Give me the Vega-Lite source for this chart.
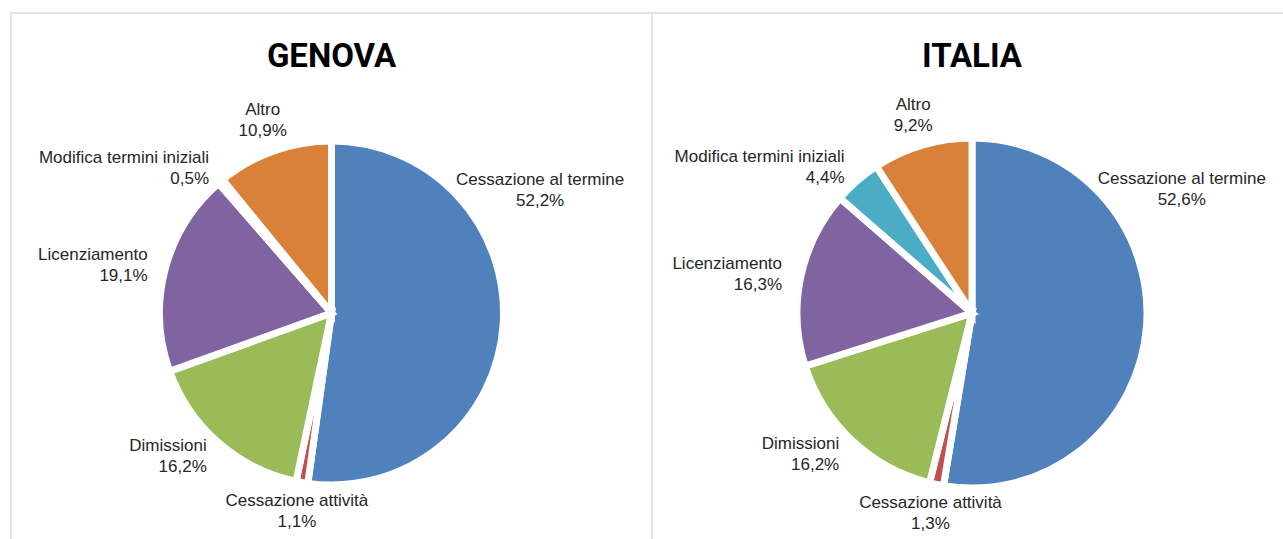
{
  "$schema": "https://vega.github.io/schema/vega-lite/v6.json",
  "background": "white",
  "padding": {"left": 10, "top": 12, "right": 0, "bottom": 0},
  "spacing": 0,
  "bounds": "flush",
  "datasets": {
    "d": [
      {"region": "GENOVA", "cat": "Cessazione al termine", "pct": 0.522, "ord": 1},
      {"region": "GENOVA", "cat": "Cessazione attività", "pct": 0.011, "ord": 2},
      {"region": "GENOVA", "cat": "Dimissioni", "pct": 0.162, "ord": 3},
      {"region": "GENOVA", "cat": "Licenziamento", "pct": 0.191, "ord": 4},
      {"region": "GENOVA", "cat": "Modifica termini iniziali", "pct": 0.005, "ord": 5},
      {"region": "GENOVA", "cat": "Altro", "pct": 0.109, "ord": 6},
      {"region": "ITALIA", "cat": "Cessazione al termine", "pct": 0.526, "ord": 1},
      {"region": "ITALIA", "cat": "Cessazione attività", "pct": 0.013, "ord": 2},
      {"region": "ITALIA", "cat": "Dimissioni", "pct": 0.162, "ord": 3},
      {"region": "ITALIA", "cat": "Licenziamento", "pct": 0.163, "ord": 4},
      {"region": "ITALIA", "cat": "Modifica termini iniziali", "pct": 0.044, "ord": 5},
      {"region": "ITALIA", "cat": "Altro", "pct": 0.092, "ord": 6}
    ]
  },
  "hconcat": [
    {
      "title": {"text": "GENOVA"},
      "width": 641,
      "height": 600,
      "view": {"stroke": "#e2e2e2", "strokeWidth": 2},
      "data": {"name": "d"},
      "transform": [
        {"filter": "datum.region === 'GENOVA'"},
        {"window": [{"op": "sum", "field": "pct", "as": "cum"}], "sort": [{"field": "ord", "order": "ascending"}], "frame": [null, 0]},
        {"calculate": "datum.cum - datum.pct + min(datum.pct / 2, 0.165)", "as": "lab"}
      ],
      "layer": [
        {
          "mark": {"type": "arc", "outerRadius": 172, "stroke": "white", "strokeWidth": 7},
          "encoding": {
            "theta": {"field": "pct", "type": "quantitative", "stack": true, "scale": {"domain": [0, 1]}},
            "order": {"field": "ord", "type": "quantitative"},
            "color": {"field": "cat", "type": "nominal", "legend": null,
              "scale": {"domain": ["Cessazione al termine", "Cessazione attività", "Dimissioni", "Licenziamento", "Modifica termini iniziali", "Altro"],
                        "range": ["#4F81BD", "#C0504D", "#9BBB59", "#8064A2", "#4BACC6", "#DA8139"]}}
          }
        },
        {
          "mark": {"type": "text", "font": "Liberation Sans", "fontSize": 17, "fill": "#262626", "dy": -10,
            "radius": {"expr": "sin(2*PI*datum.lab) < -0.5 ? 190 : 1/sqrt(pow(sin(2*PI*datum.lab)/265,2) + pow(cos(2*PI*datum.lab)/200,2))"},
            "align": {"expr": "sin(2*PI*datum.lab) < -0.5 ? 'right' : 'center'"}},
          "encoding": {
            "theta": {"field": "lab", "type": "quantitative", "stack": null, "scale": {"domain": [0, 1]}},
            "text": {"field": "cat"}
          }
        },
        {
          "mark": {"type": "text", "font": "Liberation Sans", "fontSize": 17, "fill": "#262626", "dy": 11,
            "radius": {"expr": "sin(2*PI*datum.lab) < -0.5 ? 190 : 1/sqrt(pow(sin(2*PI*datum.lab)/265,2) + pow(cos(2*PI*datum.lab)/200,2))"},
            "align": {"expr": "sin(2*PI*datum.lab) < -0.5 ? 'right' : 'center'"}},
          "encoding": {
            "theta": {"field": "lab", "type": "quantitative", "stack": null, "scale": {"domain": [0, 1]}},
            "text": {"field": "pct", "type": "quantitative", "format": ".1%"}
          }
        }
      ]
    },
    {
      "title": {"text": "ITALIA"},
      "width": 640,
      "height": 600,
      "view": {"stroke": "#e2e2e2", "strokeWidth": 2},
      "data": {"name": "d"},
      "transform": [
        {"filter": "datum.region === 'ITALIA'"},
        {"window": [{"op": "sum", "field": "pct", "as": "cum"}], "sort": [{"field": "ord", "order": "ascending"}], "frame": [null, 0]},
        {"calculate": "datum.cum - datum.pct + min(datum.pct / 2, 0.165)", "as": "lab"}
      ],
      "layer": [
        {
          "mark": {"type": "arc", "outerRadius": 175, "stroke": "white", "strokeWidth": 7},
          "encoding": {
            "theta": {"field": "pct", "type": "quantitative", "stack": true, "scale": {"domain": [0, 1]}},
            "order": {"field": "ord", "type": "quantitative"},
            "color": {"field": "cat", "type": "nominal", "legend": null,
              "scale": {"domain": ["Cessazione al termine", "Cessazione attività", "Dimissioni", "Licenziamento", "Modifica termini iniziali", "Altro"],
                        "range": ["#4F81BD", "#C0504D", "#9BBB59", "#8064A2", "#4BACC6", "#DA8139"]}}
          }
        },
        {
          "mark": {"type": "text", "font": "Liberation Sans", "fontSize": 17, "fill": "#262626", "dy": -10,
            "radius": {"expr": "sin(2*PI*datum.lab) < -0.5 ? 194 : 1/sqrt(pow(sin(2*PI*datum.lab)/265,2) + pow(cos(2*PI*datum.lab)/203,2))"},
            "align": {"expr": "sin(2*PI*datum.lab) < -0.5 ? 'right' : 'center'"}},
          "encoding": {
            "theta": {"field": "lab", "type": "quantitative", "stack": null, "scale": {"domain": [0, 1]}},
            "text": {"field": "cat"}
          }
        },
        {
          "mark": {"type": "text", "font": "Liberation Sans", "fontSize": 17, "fill": "#262626", "dy": 11,
            "radius": {"expr": "sin(2*PI*datum.lab) < -0.5 ? 194 : 1/sqrt(pow(sin(2*PI*datum.lab)/265,2) + pow(cos(2*PI*datum.lab)/203,2))"},
            "align": {"expr": "sin(2*PI*datum.lab) < -0.5 ? 'right' : 'center'"}},
          "encoding": {
            "theta": {"field": "lab", "type": "quantitative", "stack": null, "scale": {"domain": [0, 1]}},
            "text": {"field": "pct", "type": "quantitative", "format": ".1%"}
          }
        }
      ]
    }
  ],
  "config": {
    "view": {"stroke": "#e2e2e2", "strokeWidth": 2},
    "title": {"font": "Roboto", "fontSize": 33, "fontWeight": "bold", "color": "#000000", "anchor": "middle", "offset": -61, "baseline": "alphabetic", "frame": "group"},
    "locale": {"number": {"decimal": ",", "thousands": ".", "grouping": [3], "currency": ["€", ""]}}
  }
}
